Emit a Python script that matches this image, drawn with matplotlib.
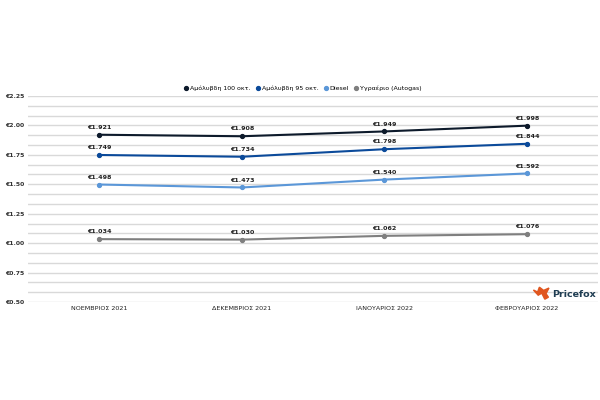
import numpy as np
import matplotlib.pyplot as plt
from matplotlib.patches import Polygon

months = ['ΝΟΕΜΒΡΙΟΣ 2021', 'ΔΕΚΕΜΒΡΙΟΣ 2021', 'ΙΑΝΟΥΑΡΙΟΣ 2022', 'ΦΕΒΡΟΥΑΡΙΟΣ 2022']
names = ['Αμόλυβδη 100 οκτ.', 'Αμόλυβδη 95 οκτ.', 'Diesel', 'Υγραέριο (Autogas)']
unl100 = [1.921, 1.908, 1.949, 1.998]
unl95 = [1.749, 1.734, 1.798, 1.844]
diesel = [1.498, 1.473, 1.540, 1.592]
lpg = [1.034, 1.030, 1.062, 1.076]
colors = ['#0d1a2b', '#0b4a9a', '#5b97d8', '#7f7f7f']

fig = plt.figure(figsize=(6, 4), dpi=100)
ax = fig.add_axes([0.047, 0.245, 0.95, 0.515])

x = np.arange(len(months))
for vals, name, c in zip([unl100, unl95, diesel, lpg], names, colors):
    ax.plot(x, vals, color=c, lw=1.5, marker='o', ms=2.8, label=name)
    for xi, v in zip(x, vals):
        ax.annotate('€%.3f' % v, (xi, v), xytext=(0, 3.5), textcoords='offset points',
                    ha='center', va='bottom', fontsize=4.6, fontweight='bold', color='#222222')

ax.set_xlim(-0.5, len(months) - 0.5)
ax.set_ylim(0.5, 2.25)
ticks = np.arange(0.5, 2.26, 0.25)
ax.set_yticks(ticks)
ax.set_yticklabels(['€%.2f' % t for t in ticks], fontsize=4.4, fontweight='bold', color='#333333')
ax.set_yticks(np.arange(0.5, 2.26, 0.25 / 3), minor=True)
ax.set_xticks(x)
ax.set_xticklabels(months, fontsize=4.6, color='#222222')
ax.tick_params(axis='both', length=0, pad=3)
ax.tick_params(axis='y', which='minor', length=0)
ax.grid(axis='y', which='both', color='#d9d9d9', lw=1)
ax.set_axisbelow(True)
for s in ax.spines.values():
    s.set_visible(False)

leg = fig.legend(loc='center', bbox_to_anchor=(0.505, 0.78), ncol=4, frameon=False, fontsize=4.5,
                 handlelength=0.5, handletextpad=0.4, columnspacing=0.9)
for h in leg.legend_handles:
    h.set_linestyle('none')

# Pricefox logo
fox = Polygon([(0.889, 0.275), (0.897, 0.262), (0.903, 0.267), (0.908, 0.252),
               (0.914, 0.257), (0.910, 0.266), (0.915, 0.28), (0.906, 0.274),
               (0.899, 0.282), (0.896, 0.27)], closed=True, transform=fig.transFigure,
              color='#e0561f')
fig.patches.append(fox)
fig.text(0.92, 0.264, 'Pricefox', fontsize=6.8, fontweight='bold', color='#1f3d52', va='center')

fig.savefig('out.png', dpi=100)
